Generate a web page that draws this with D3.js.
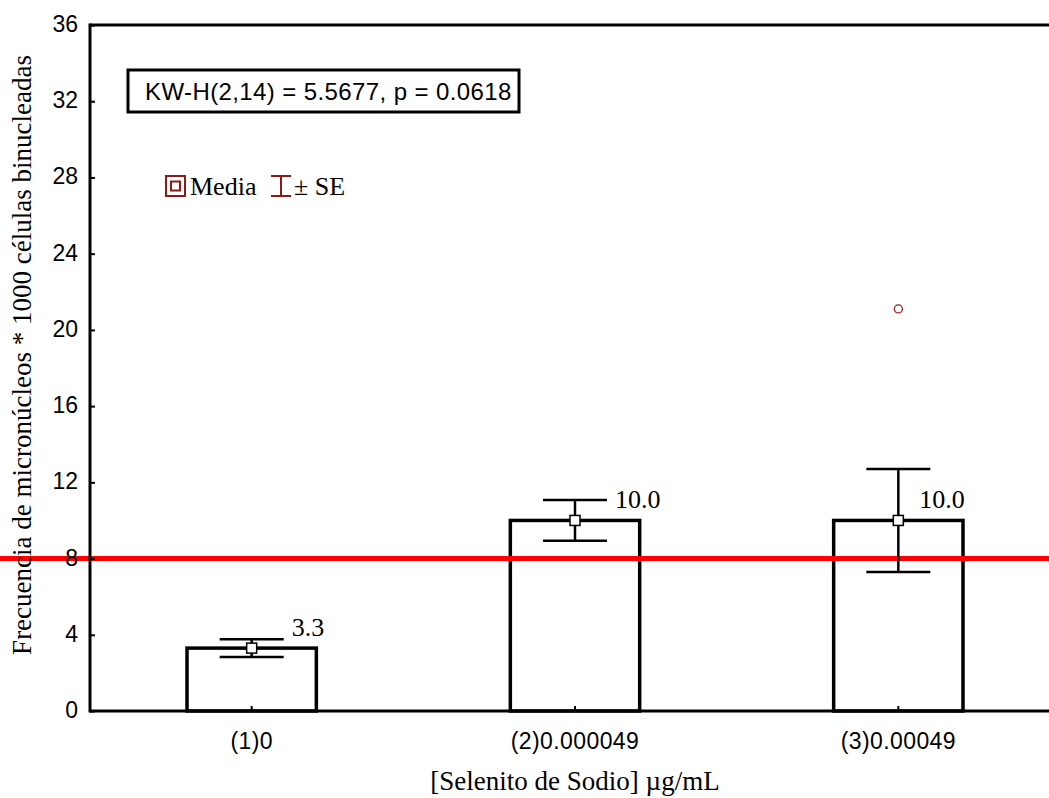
<!DOCTYPE html>
<html>
<head>
<meta charset="utf-8">
<style>
body { margin: 0; background: #fff; }
svg { display: block; }
.serif { font-family: "Liberation Serif", "Times New Roman", serif; }
.sans { font-family: "Liberation Sans", Arial, sans-serif; }
</style>
</head>
<body>
<svg id="viz"></svg>
<script src="https://cdn.jsdelivr.net/npm/d3@7/dist/d3.min.js"></script>
<script>
// data
var groups = ["(1)0", "(2)0.000049", "(3)0.00049"];
var means = [3.3, 10.0, 10.0];
var se = [0.47, 1.07, 2.7];
var meanLabels = ["3.3", "10.0", "10.0"];
var outliers = [{ group: "(3)0.00049", value: 21.1 }];
var yTicks = [0, 4, 8, 12, 16, 20, 24, 28, 32, 36];
var refLine = 8;
var statText = "KW-H(2,14) = 5.5677, p = 0.0618";

var width = 1049, height = 798;
var mLeft = 90, mTop = 25, mBottom = 711, mRight = 1060;

var svg = d3.select("#viz").attr("width", width).attr("height", height);

var x = d3.scaleBand().domain(groups).range([mLeft, mRight]).paddingInner(0.6).paddingOuter(0.3);
var xc = function(g) { return x(g) + x.bandwidth() / 2; };
var y = d3.scaleLinear().domain([0, 36]).range([mBottom, mTop]);

// bars
svg.append("g").selectAll("rect")
  .data(groups)
  .enter().append("rect")
  .attr("x", function(d) { return x(d); })
  .attr("y", function(d, i) { return y(means[i]); })
  .attr("width", x.bandwidth())
  .attr("height", function(d, i) { return y(0) - y(means[i]); })
  .attr("fill", "#fff")
  .attr("stroke", "#000")
  .attr("stroke-width", 3.5);

// reference line
svg.append("line")
  .attr("x1", 0).attr("x2", width)
  .attr("y1", y(refLine)).attr("y2", y(refLine))
  .attr("stroke", "#ff0000")
  .attr("stroke-width", 5);

// error bars
var capHalf = 32;
var eb = svg.append("g").attr("stroke", "#000").attr("stroke-width", 2.5);
groups.forEach(function(g, i) {
  var cx = xc(g);
  eb.append("line").attr("x1", cx).attr("x2", cx)
    .attr("y1", y(means[i] + se[i])).attr("y2", y(means[i] - se[i]));
  [means[i] + se[i], means[i] - se[i]].forEach(function(v) {
    eb.append("line").attr("x1", cx - capHalf).attr("x2", cx + capHalf)
      .attr("y1", y(v)).attr("y2", y(v));
  });
});

// mean markers
svg.append("g").selectAll("rect")
  .data(groups)
  .enter().append("rect")
  .attr("x", function(d) { return xc(d) - 5; })
  .attr("y", function(d, i) { return y(means[i]) - 5; })
  .attr("width", 10).attr("height", 10)
  .attr("fill", "#fff").attr("stroke", "#000").attr("stroke-width", 1.5);

// mean labels
svg.append("g").selectAll("text")
  .data(groups)
  .enter().append("text")
  .attr("class", "serif")
  .attr("font-size", 26)
  .attr("x", function(d, i) {
    var labelTop = y(means[i]) - 33;
    // if the upper cap is above the label, sit next to the whisker stem
    return y(means[i] + se[i]) < labelTop ? xc(d) + 21 : xc(d) + capHalf + 8;
  })
  .attr("y", function(d, i) { return y(means[i]) - 12; })
  .text(function(d, i) { return meanLabels[i]; });

// outliers
svg.append("g").selectAll("circle")
  .data(outliers)
  .enter().append("circle")
  .attr("cx", function(d) { return xc(d.group); })
  .attr("cy", function(d) { return y(d.value); })
  .attr("r", 4)
  .attr("fill", "none")
  .attr("stroke", "#9b1c1c")
  .attr("stroke-width", 1.3);

// axes
var yAxis = svg.append("g")
  .attr("transform", "translate(" + mLeft + ",0)")
  .call(d3.axisRight(y).tickValues(yTicks).tickSize(5).tickFormat(d3.format("d")));
yAxis.select(".domain").remove();
yAxis.selectAll(".tick line").attr("stroke-width", 2);
yAxis.selectAll("text")
  .attr("class", "sans")
  .attr("font-size", 23)
  .attr("fill", "#000")
  .attr("text-anchor", "end")
  .attr("x", -12)
  .attr("dy", "0.28em");

var xAxis = svg.append("g")
  .attr("transform", "translate(0," + mBottom + ")")
  .call(d3.axisTop(x).tickSize(5).tickFormat(""));
xAxis.select(".domain").remove();
xAxis.selectAll(".tick line").attr("stroke-width", 2);

svg.append("g").selectAll("text")
  .data(groups)
  .enter().append("text")
  .attr("class", "sans")
  .attr("font-size", 23)
  .attr("letter-spacing", 0.4)
  .attr("text-anchor", "middle")
  .attr("x", function(d) { return xc(d); })
  .attr("y", mBottom + 38)
  .text(function(d) { return d; });

// frame lines
var frame = svg.append("g").attr("stroke", "#000").attr("stroke-width", 3);
frame.append("line").attr("x1", mLeft).attr("x2", mLeft).attr("y1", mTop - 1.5).attr("y2", mBottom + 1.5);
frame.append("line").attr("x1", mLeft).attr("x2", width).attr("y1", mTop).attr("y2", mTop);
frame.append("line").attr("x1", mLeft).attr("x2", width).attr("y1", mBottom).attr("y2", mBottom);

// axis titles
svg.append("text")
  .attr("class", "serif")
  .attr("font-size", 27)
  .attr("text-anchor", "middle")
  .attr("x", 575).attr("y", 790)
  .text("[Selenito de Sodio] µg/mL");

svg.append("text")
  .attr("class", "serif")
  .attr("font-size", 27)
  .attr("text-anchor", "middle")
  .attr("transform", "translate(31,355) rotate(-90)")
  .text("Frecuencia de micronúcleos * 1000 células binucleadas");

// stat box
svg.append("rect")
  .attr("x", 128).attr("y", 70).attr("width", 391).attr("height", 42)
  .attr("fill", "#fff").attr("stroke", "#000").attr("stroke-width", 3);
svg.append("text")
  .attr("class", "sans")
  .attr("font-size", 24)
  .attr("letter-spacing", 0.4)
  .attr("x", 145).attr("y", 100)
  .text(statText);

// legend
var lg = svg.append("g").attr("transform", "translate(165,175)");
lg.append("rect").attr("x", 1).attr("y", 1).attr("width", 19).attr("height", 20)
  .attr("fill", "#fff").attr("stroke", "#8b1a1a").attr("stroke-width", 2);
lg.append("rect").attr("x", 6).attr("y", 6.5).attr("width", 9).attr("height", 9)
  .attr("fill", "#fff").attr("stroke", "#8b1a1a").attr("stroke-width", 2);
lg.append("text").attr("class", "serif").attr("font-size", 26)
  .attr("x", 25).attr("y", 20).text("Media");
var wk = lg.append("g").attr("stroke", "#8b1a1a").attr("stroke-width", 2);
wk.append("line").attr("x1", 106).attr("x2", 126).attr("y1", 1).attr("y2", 1);
wk.append("line").attr("x1", 106).attr("x2", 126).attr("y1", 21).attr("y2", 21);
wk.append("line").attr("x1", 116).attr("x2", 116).attr("y1", 1).attr("y2", 21);
lg.append("text").attr("class", "serif").attr("font-size", 26)
  .attr("x", 129).attr("y", 20).text("± SE");
</script>
</body>
</html>
